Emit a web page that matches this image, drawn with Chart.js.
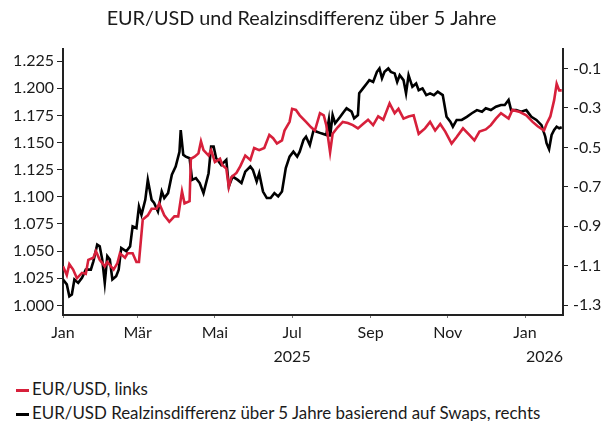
<!DOCTYPE html>
<html lang="de">
<head>
<meta charset="utf-8">
<title>EUR/USD und Realzinsdifferenz</title>
<script src="https://cdn.jsdelivr.net/npm/chart.js@4.4.1/dist/chart.umd.min.js"></script>
<style>
    body {
        margin: 0;
        background: #fff;
        overflow: hidden;
        font-family: Lato, "Open Sans", sans-serif;
    }
    #wrap {
        position: relative;
        width: 603px;
        height: 372px;
    }
    #legend {
        padding-top: 5px;
        font-size: 16.9px;
        color: #1a1a1a;
    }
    #legend div {
        height: 24px;
        line-height: 24px;
        white-space: nowrap;
        padding-left: 16px;
    }
    #legend span.swatch {
        display: inline-block;
        width: 13px;
        height: 3px;
        margin-right: 3px;
        vertical-align: middle;
    }
</style>
</head>
<body>
<div id="wrap"><canvas id="chart"></canvas></div>
<div id="legend"></div>

<script>
// Days counted from 1 Jan 2025
const redDays = [0, 3, 5, 8, 11, 15, 18, 20, 24, 26, 29, 33, 35, 40, 43, 45, 49, 51, 55, 58,
    60, 63, 67, 70, 74, 76, 80, 84, 88, 91, 94, 96, 100, 101, 104, 107, 109, 111, 115, 117,
    120, 124, 126, 129, 131, 133, 137, 140, 144, 148, 151, 155, 159, 163, 166, 169, 173, 175, 179, 181,
    184, 187, 192, 196, 199, 203, 206, 208, 211, 213, 217, 221, 225, 229, 233, 237, 241, 245, 249, 253,
    258, 262, 265, 269, 273, 277, 281, 286, 290, 294, 298, 302, 307, 311, 316, 321, 325, 329, 334, 338,
    342, 346, 352, 355, 361, 366, 371, 375, 380, 382, 385, 388, 390, 392, 394];
const eurUsd = [1.036, 1.028, 1.038, 1.033, 1.025, 1.030, 1.029, 1.042, 1.044, 1.050, 1.042, 1.036, 1.040, 1.033, 1.039, 1.048, 1.044, 1.048, 1.048, 1.040,
    1.040, 1.079, 1.083, 1.089, 1.089, 1.094, 1.083, 1.077, 1.082, 1.082, 1.105, 1.094, 1.096, 1.135, 1.137, 1.140, 1.151, 1.143, 1.138, 1.143,
    1.132, 1.135, 1.129, 1.126, 1.109, 1.118, 1.122, 1.128, 1.138, 1.134, 1.145, 1.143, 1.145, 1.157, 1.154, 1.149, 1.152, 1.161, 1.169, 1.181,
    1.180, 1.175, 1.169, 1.164, 1.161, 1.177, 1.175, 1.166, 1.141, 1.158, 1.164, 1.169, 1.168, 1.166, 1.163, 1.167, 1.171, 1.166, 1.174, 1.171,
    1.186, 1.177, 1.181, 1.172, 1.174, 1.175, 1.158, 1.163, 1.169, 1.161, 1.167, 1.160, 1.149, 1.155, 1.163, 1.157, 1.152, 1.160, 1.162, 1.166,
    1.172, 1.177, 1.172, 1.180, 1.178, 1.175, 1.169, 1.165, 1.161, 1.167, 1.174, 1.189, 1.204, 1.198, 1.198];

const blackDays = [0, 3, 5, 7, 9, 12, 15, 18, 22, 24, 27, 29, 31, 33, 35, 37, 39, 42, 44, 46,
    50, 53, 55, 58, 60, 62, 65, 67, 70, 72, 75, 78, 80, 83, 86, 89, 92, 93, 95, 97,
    100, 102, 105, 108, 111, 115, 117, 119, 121, 125, 129, 131, 134, 138, 141, 144, 148, 150, 153, 155,
    158, 161, 164, 167, 170, 173, 176, 179, 182, 185, 187, 190, 192, 195, 198, 200, 204, 208, 210, 211,
    213, 215, 219, 221, 224, 228, 230, 233, 234, 237, 240, 242, 245, 248, 250, 252, 254, 257, 259, 262,
    264, 266, 269, 271, 273, 276, 279, 281, 284, 287, 290, 293, 296, 300, 303, 306, 308, 311, 315, 319,
    323, 327, 331, 334, 338, 342, 346, 349, 352, 354, 358, 362, 366, 370, 374, 378, 381, 382, 384, 386,
    388, 390, 392, 394];
const realRateDiff = [-1.170, -1.195, -1.255, -1.246, -1.170, -1.187, -1.161, -1.120, -1.120, -1.078, -0.993, -1.002, -1.069, -1.187, -1.052, -1.069, -1.170, -1.153, -1.120, -1.010,
    -1.027, -1.002, -0.901, -0.909, -0.800, -0.842, -0.766, -0.665, -0.766, -0.782, -0.825, -0.724, -0.757, -0.732, -0.639, -0.597, -0.522, -0.412, -0.538, -0.547,
    -0.555, -0.665, -0.656, -0.681, -0.732, -0.631, -0.496, -0.496, -0.555, -0.589, -0.563, -0.698, -0.648, -0.665, -0.681, -0.623, -0.597, -0.614, -0.673, -0.631,
    -0.724, -0.757, -0.757, -0.732, -0.749, -0.724, -0.605, -0.547, -0.522, -0.547, -0.522, -0.462, -0.446, -0.488, -0.412, -0.420, -0.429, -0.437, -0.361, -0.446,
    -0.336, -0.378, -0.345, -0.327, -0.302, -0.319, -0.353, -0.336, -0.226, -0.201, -0.176, -0.159, -0.168, -0.117, -0.100, -0.150, -0.117, -0.100, -0.117, -0.125,
    -0.168, -0.134, -0.159, -0.226, -0.134, -0.193, -0.176, -0.210, -0.201, -0.235, -0.226, -0.235, -0.218, -0.235, -0.345, -0.370, -0.395, -0.361, -0.361, -0.345,
    -0.327, -0.311, -0.319, -0.302, -0.311, -0.294, -0.285, -0.285, -0.260, -0.311, -0.311, -0.319, -0.311, -0.345, -0.361, -0.387, -0.446, -0.479, -0.509, -0.437,
    -0.412, -0.395, -0.403, -0.398];

// x-axis ticks (first day of every second month) and year captions
const tickDays = [0, 59, 120, 181, 243, 304, 365];
const tickLabels = ['Jan', 'Mär', 'Mai', 'Jul', 'Sep', 'Nov', 'Jan'];
const yearDays = [181, 365];
const yearLabels = ['2025', '2026'];

const seriesLabels = ['EUR/USD, links', 'EUR/USD Realzinsdifferenz über 5 Jahre basierend auf Swaps, rechts'];
const red = '#d7203b';
const black = '#000000';
const textColor = '#1a1a1a';

Chart.defaults.font.family = 'Lato, "Open Sans", sans-serif';
Chart.defaults.font.size = 16;
Chart.defaults.color = textColor;

// year row under the month labels: 2025 centred under Jul, 2026 flush with the right axis
const yearRow = {
    id: 'yearRow',
    afterDraw(chart) {
        const x = chart.scales.x;
        const ctx = chart.ctx;
        const y = x.top + 3 + 3 + 24 * 1.5;
        ctx.save();
        ctx.font = '16px ' + Chart.defaults.font.family;
        ctx.fillStyle = textColor;
        ctx.textBaseline = 'middle';
        ctx.textAlign = 'center';
        ctx.fillText(yearLabels[0], x.getPixelForValue(yearDays[0]), y);
        ctx.textAlign = 'right';
        ctx.fillText(yearLabels[1], chart.chartArea.right, y);
        ctx.restore();
    }
};

const ctx = document.getElementById('chart').getContext('2d');
const chart = new Chart(ctx, {
    type: 'line',
    data: {
        datasets: [{
            label: seriesLabels[0],
            data: redDays.map((d, i) => ({ x: d, y: eurUsd[i] })),
            borderColor: red,
            backgroundColor: red,
            borderWidth: 2.6,
            pointRadius: 0,
            tension: 0,
            yAxisID: 'y'
        }, {
            label: seriesLabels[1],
            data: blackDays.map((d, i) => ({ x: d, y: realRateDiff[i] })),
            borderColor: black,
            backgroundColor: black,
            borderWidth: 2.6,
            pointRadius: 0,
            tension: 0,
            yAxisID: 'y1'
        }]
    },
    options: {
        responsive: true,
        maintainAspectRatio: false,
        animation: false,
        layout: { padding: 0 },
        plugins: {
            legend: { display: false },
            tooltip: { enabled: false },
            title: {
                display: true,
                text: 'EUR/USD und Realzinsdifferenz über 5 Jahre',
                color: textColor,
                font: { size: 19.8, weight: 'normal' },
                padding: { top: 7, bottom: 18 }
            }
        },
        scales: {
            x: {
                type: 'linear',
                min: 0,
                max: 395,
                afterBuildTicks: axis => {
                    axis.ticks = tickDays.map(v => ({ value: v }));
                },
                afterFit: scale => { scale.height = 57; },
                ticks: {
                    autoSkip: false,
                    maxRotation: 0,
                    padding: 3,
                    font: { size: 16, lineHeight: 1.5 },
                    callback: (v, i) => tickLabels[i]
                },
                grid: {
                    drawOnChartArea: false,
                    tickLength: 3,
                    color: '#777'
                },
                border: { color: '#222', width: 2 }
            },
            y: {
                position: 'left',
                min: 0.9912,
                max: 1.2363,
                afterFit: scale => { scale.width = 63; },
                ticks: {
                    stepSize: 0.025,
                    includeBounds: false,
                    padding: 3,
                    callback: v => v.toFixed(3)
                },
                grid: {
                    drawOnChartArea: false,
                    tickLength: 6,
                    color: '#222'
                },
                border: { color: '#222', width: 2 }
            },
            y1: {
                position: 'right',
                min: -1.35,
                max: 0,
                afterFit: scale => { scale.width = 40; },
                ticks: {
                    stepSize: 0.1,
                    includeBounds: false,
                    padding: 5,
                    callback: v => {
                        const n = Math.round(v * 10);
                        return n % 2 !== 0 ? (n / 10).toFixed(1) : '';
                    }
                },
                grid: {
                    drawOnChartArea: false,
                    tickLength: 5,
                    color: '#222'
                },
                border: { color: '#222', width: 2 }
            }
        }
    },
    plugins: [yearRow]
});

// Legend below the chart, one series per row
const legend = document.getElementById('legend');
chart.data.datasets.forEach(ds => {
    const row = document.createElement('div');
    row.innerHTML = '<span class="swatch" style="background:' + ds.borderColor + '"></span>' + ds.label;
    legend.appendChild(row);
});
</script>
</body>
</html>
